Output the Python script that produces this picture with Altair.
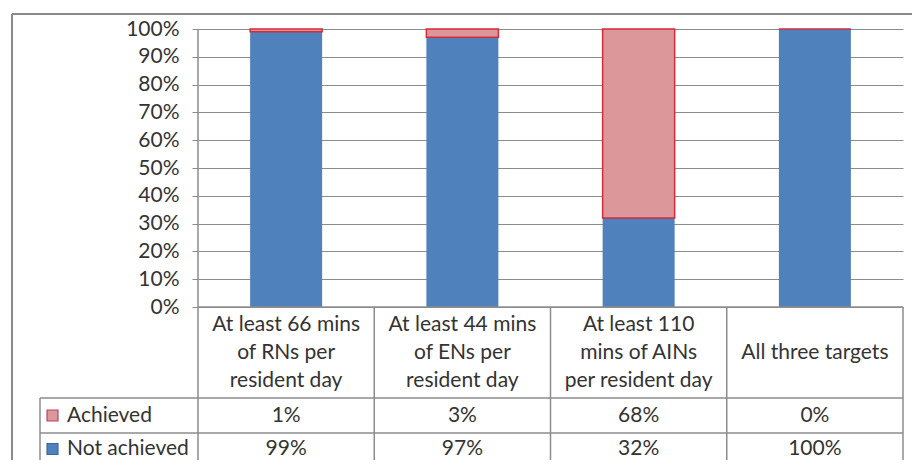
import altair as alt
import pandas as pd

# ---- data ----
header_lines = [
    ["At least 66 mins", "of RNs per", "resident day"],
    ["At least 44 mins", "of ENs per", "resident day"],
    ["At least 110", "mins of AINs", "per resident day"],
    ["All three targets"],
]
series = ["Achieved", "Not achieved"]
achieved = [1, 3, 68, 0]
not_achieved = [99, 97, 32, 100]
y_tick_values = [0, 10, 20, 30, 40, 50, 60, 70, 80, 90, 100]

# ---- style / layout ----
FONT = "Lato"
FS = 21
TXT = "#333333"
BLUE = "#4F81BD"
PINK = "#DB979A"
PINK_EDGE = "#D42A3C"
GRID = "#8C8C8C"
LINE = "#8C8C8C"

N = len(header_lines)
W = 705            # plot width in px (x domain 0..N)
H = 431            # plot height in px (canvas must fit the window)
PYU = 278          # px per y unit (0%..100%)
Y_MIN = 1 - H / PYU
PXU = W / N        # px per x unit
LH = 28            # header line height

def ypx(p):  # pixel offset below the 0% line -> data units
    return -p / PYU

def xpx(p):  # pixel offset from plot left -> data units
    return p / PXU

BAR_HALF = xpx(36)
HEADER_BOTTOM = ypx(91)
ROW1_BOTTOM = ypx(126)
TABLE_BOTTOM = Y_MIN - 0.2
LEG_LEFT = xpx(-158)
ROW_Y = {"Achieved": ypx(108.5), "Not achieved": ypx(142)}

xs = alt.Scale(domain=[0, N], nice=False, zero=False)
ys = alt.Scale(domain=[Y_MIN, 1], nice=False, zero=False)
yaxis = alt.Axis(
    values=[v / 100 for v in y_tick_values], format=".0%", grid=True,
    gridColor=GRID, gridWidth=1, domain=False, tickColor=GRID, tickSize=6,
    labelPadding=13, labelFont=FONT, labelFontSize=FS, labelColor=TXT,
    title=None,
)

def X(f):
    return alt.X(f, type="quantitative", scale=xs, axis=None)

def Y(f):
    return alt.Y(f, type="quantitative", scale=ys, axis=yaxis)

# bars
rows = []
for i in range(N):
    na = not_achieved[i] / 100
    a = achieved[i] / 100
    cx = i + 0.5
    rows.append(dict(series="Not achieved", x0=cx - BAR_HALF, x1=cx + BAR_HALF, y0=0, y1=na))
    rows.append(dict(series="Achieved", x0=cx - BAR_HALF, x1=cx + BAR_HALF, y0=na, y1=na + a))
bars = pd.DataFrame(rows)

blue_bars = alt.Chart(bars[bars.series == "Not achieved"]).mark_bar(color=BLUE).encode(
    x=X("x0"), x2="x1", y=Y("y0"), y2="y1")
pink_bars = alt.Chart(bars[bars.series == "Achieved"]).mark_bar(
    color=PINK, stroke=PINK_EDGE, strokeWidth=1.5).encode(
    x=X("x0"), x2="x1", y=Y("y0"), y2="y1")

# table lines
lines = []
for i in range(N + 1):
    lines.append(dict(x=i, x2=i, y=TABLE_BOTTOM, y2=(1 if i == 0 else 0)))
lines.append(dict(x=0, x2=N, y=0, y2=0))
lines.append(dict(x=LEG_LEFT, x2=N, y=HEADER_BOTTOM, y2=HEADER_BOTTOM))
lines.append(dict(x=LEG_LEFT, x2=N, y=ROW1_BOTTOM, y2=ROW1_BOTTOM))
lines.append(dict(x=LEG_LEFT, x2=LEG_LEFT, y=HEADER_BOTTOM, y2=TABLE_BOTTOM))
tlines = alt.Chart(pd.DataFrame(lines)).mark_rule(color=LINE, strokeWidth=1.5).encode(
    x=X("x"), x2="x2", y=Y("y"), y2="y2")

# outer frame (Excel chart border)
frame = pd.DataFrame([
    dict(x=xpx(-186), x2=N + xpx(40), y=1 + 15 / PYU, y2=1 + 15 / PYU),
    dict(x=xpx(-186), x2=xpx(-186), y=1 + 15 / PYU, y2=TABLE_BOTTOM),
])
frame_l = alt.Chart(frame).mark_rule(color="#8A8A8A", strokeWidth=2).encode(
    x=X("x"), x2="x2", y=Y("y"), y2="y2")

# header text (first line y so that the block is centred in the header row)
hdr = pd.DataFrame(dict(
    x=[i + 0.5 for i in range(N)],
    y=[HEADER_BOTTOM / 2 + (len(h) - 1) / 2 * LH / PYU for h in header_lines],
    t=["\n".join(h) for h in header_lines]))
hdr_t = alt.Chart(hdr).mark_text(font=FONT, fontSize=FS, color=TXT, lineBreak="\n",
                                 lineHeight=LH, baseline="middle", align="center").encode(
    x=X("x"), y=Y("y"), text="t:N")

# value cells
cells = []
for i in range(N):
    cells.append(dict(x=i + 0.5, y=ROW_Y["Achieved"], t=f"{achieved[i]}%"))
    cells.append(dict(x=i + 0.5, y=ROW_Y["Not achieved"], t=f"{not_achieved[i]}%"))
cell_t = alt.Chart(pd.DataFrame(cells)).mark_text(font=FONT, fontSize=FS, color=TXT,
                                                  baseline="middle", align="center").encode(
    x=X("x"), y=Y("y"), text="t:N")

# legend column
leg = pd.DataFrame(dict(series=series,
                        y=[ROW_Y[s] for s in series],
                        xs=[LEG_LEFT + xpx(12.5)] * 2,
                        xt=[LEG_LEFT + xpx(27)] * 2))
color_scale = alt.Scale(domain=series, range=[PINK, BLUE])
stroke_scale = alt.Scale(domain=series, range=["#B5455A", "#3A6A9A"])
leg_sq = alt.Chart(leg).mark_square(size=120, opacity=1, strokeWidth=1.2).encode(
    x=X("xs"), y=Y("y"),
    fill=alt.Fill("series:N", scale=color_scale, legend=None),
    stroke=alt.Stroke("series:N", scale=stroke_scale, legend=None))
leg_t = alt.Chart(leg).mark_text(font=FONT, fontSize=FS, color=TXT,
                                 baseline="middle", align="left").encode(
    x=X("xt"), y=Y("y"), text="series:N")

chart = alt.layer(blue_bars, pink_bars, tlines, frame_l, hdr_t, cell_t, leg_sq, leg_t).properties(
    width=W, height=H,
    padding={"left": 190, "top": 21, "right": 9, "bottom": 0},
    autosize=alt.AutoSizeParams(type="none"),
    background="white",
).configure_view(stroke=None)

chart.save("out.html", embed_options={"renderer": "svg", "actions": False})
